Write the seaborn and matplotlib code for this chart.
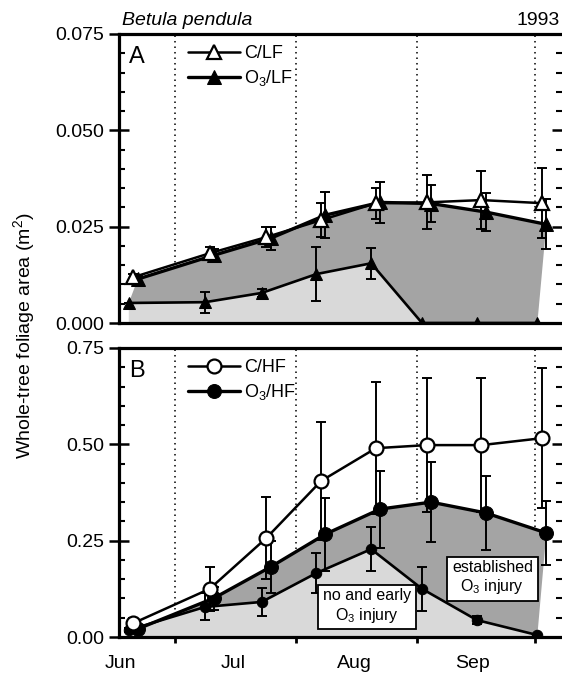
import numpy as np
import pandas as pd
import matplotlib
matplotlib.use('Agg')
import matplotlib.pyplot as plt
from matplotlib.ticker import MultipleLocator, FormatStrFormatter
import seaborn as sns

# ---------------- data ----------------
months = ['Jun', 'Jul', 'Aug', 'Sep']
month_mid_doy = [168, 197, 228, 258]
month_start_doy = [182, 213, 244, 274]
sample_doy = [172, 191.5, 206, 220, 234, 247, 261, 276.5]

# Panel A (low fertilisation)
c_lf = [0.0119, 0.0181, 0.0223, 0.0267, 0.0311, 0.0313, 0.0319, 0.0311]
c_lf_err = [0.0008, 0.0015, 0.0025, 0.0045, 0.0040, 0.0070, 0.0075, 0.0090]
o3_lf = [0.0114, 0.0176, 0.0220, 0.0280, 0.0313, 0.0310, 0.0288, 0.0256]
o3_lf_err = [0.0008, 0.0015, 0.0030, 0.0060, 0.0053, 0.0047, 0.0050, 0.0065]
o3_lf_early = [0.0052, 0.0054, 0.0078, 0.0127, 0.0155, 0.0, 0.0, 0.0]
o3_lf_early_err = [0.0, 0.0027, 0.0010, 0.0070, 0.0040, 0.0, 0.0, 0.0]

# Panel B (high fertilisation)
c_hf = [0.036, 0.125, 0.257, 0.405, 0.490, 0.498, 0.498, 0.516]
c_hf_err = [0.014, 0.057, 0.106, 0.153, 0.172, 0.174, 0.174, 0.182]
o3_hf = [0.021, 0.101, 0.182, 0.267, 0.332, 0.350, 0.322, 0.270]
o3_hf_err = [0.005, 0.030, 0.068, 0.095, 0.100, 0.104, 0.096, 0.083]
o3_hf_early = [0.018, 0.078, 0.091, 0.166, 0.228, 0.125, 0.044, 0.005]
o3_hf_early_err = [0.005, 0.035, 0.036, 0.052, 0.057, 0.057, 0.010, 0.0]

# ---------------- style ----------------
sns.set_theme(style='ticks', rc={
    'text.color': 'black', 'axes.labelcolor': 'black',
    'xtick.color': 'black', 'ytick.color': 'black',
    'axes.edgecolor': 'black'})
plt.rcParams['font.family'] = ['Liberation Sans', 'DejaVu Sans']
plt.rcParams['mathtext.default'] = 'regular'

DARK = '#a4a4a4'
LIGHT = '#d9d9d9'

fig = plt.figure(figsize=(5.62, 6.78), dpi=100)
axA = fig.add_axes([119 / 562, 1 - 323 / 678, 443 / 562, 289 / 678])
axB = fig.add_axes([119 / 562, 1 - 637 / 678, 443 / 562, 289 / 678])

OFF_C, OFF_O3, OFF_E = -0.6, 0.5, -1.8


def draw_panel(ax, c, c_err, o3, o3_err, early, early_err, marker, labels,
               ms_main, ms_early, ymax, major, minor, fmt, letter, bottom):
    d = np.asarray(sample_doy, dtype=float)
    xc, xo, xe = d + OFF_C, d + OFF_O3, d + OFF_E
    o3 = np.asarray(o3); early = np.asarray(early)

    # shaded regions
    ax.fill(np.r_[xe, xe[::-1]], np.r_[early, np.zeros_like(early)],
            color=LIGHT, lw=0, zorder=1)
    ax.fill(np.r_[xo, xe[::-1]], np.r_[o3, early[::-1]],
            color=DARK, lw=0, zorder=1)

    for m in month_start_doy:
        ax.axvline(m, color='black', lw=1.1, ls=(0, (1, 2.6)), zorder=0.5)

    # error bars
    ekw = dict(fmt='none', ecolor='black', elinewidth=1.4, capsize=3.8,
               capthick=1.4)
    ax.errorbar(xe, early, yerr=early_err, zorder=3, **ekw)
    ax.errorbar(xo, o3, yerr=o3_err, zorder=3, **ekw)
    ax.errorbar(xc, c, yerr=c_err, zorder=3, **ekw)

    df_e = pd.DataFrame({'doy': xe, 'area': early})
    df_o = pd.DataFrame({'doy': xo, 'area': o3})
    df_c = pd.DataFrame({'doy': xc, 'area': c})
    sns.lineplot(data=df_e, x='doy', y='area', ax=ax, color='black', lw=1.9,
                 marker=marker, markersize=ms_early, markerfacecolor='black',
                 markeredgecolor='black', errorbar=None, sort=False,
                 zorder=4)
    sns.lineplot(data=df_o, x='doy', y='area', ax=ax, color='black', lw=2.4,
                 marker=marker, markersize=ms_main, markerfacecolor='black',
                 markeredgecolor='black', errorbar=None, sort=False,
                 zorder=5)
    sns.lineplot(data=df_c, x='doy', y='area', ax=ax, color='black', lw=1.8,
                 marker=marker, markersize=ms_main, markerfacecolor='white',
                 markeredgecolor='black', markeredgewidth=1.6,
                 errorbar=None, sort=False, zorder=6)
    lines = ax.get_lines()
    h_c = lines[-1]
    h_o = lines[-2]
    ax.legend(handles=[h_c, h_o], labels=labels, loc='upper left',
              bbox_to_anchor=(0.156, 0.962), frameon=False, fontsize=13,
              handlelength=2.9, handletextpad=0.2, labelspacing=0.35,
              borderpad=0, borderaxespad=0)

    ax.set_xlim(167.7, 281)
    ax.set_ylim(0, ymax)
    ax.set_xlabel('')
    ax.set_ylabel('')
    ax.yaxis.set_major_locator(MultipleLocator(major))
    ax.yaxis.set_minor_locator(MultipleLocator(minor))
    ax.yaxis.set_major_formatter(FormatStrFormatter(fmt))
    ax.tick_params(axis='y', which='major', direction='inout', length=15,
                   width=1.8, left=True, right=True, labelsize=14, pad=3)
    ax.tick_params(axis='y', which='minor', direction='in', length=4,
                   width=1.5, left=True, right=True)

    ax.set_xticks(month_start_doy)
    ax.set_xticklabels([])
    if bottom:
        ax.set_xticks(month_mid_doy, minor=True)
        ax.set_xticklabels(months, minor=True)
        ax.tick_params(axis='x', which='major', direction='out', length=4,
                       width=2)
        ax.tick_params(axis='x', which='minor', length=0, pad=13,
                       labelsize=14)
    else:
        ax.tick_params(axis='x', which='both', length=0)

    for s in ('left', 'top', 'bottom'):
        ax.spines[s].set_linewidth(2.3)
        ax.spines[s].set_visible(True)
    ax.spines['right'].set_visible(False)

    ax.text(0.022, 0.958, letter, transform=ax.transAxes, ha='left',
            va='top', fontsize=17, zorder=7)


draw_panel(axA, c_lf, c_lf_err, o3_lf, o3_lf_err, o3_lf_early,
           o3_lf_early_err, '^', ['C/LF', 'O$_3$/LF'], 9.5, 9,
           0.075, 0.025, 0.005, '%.3f', 'A', False)
draw_panel(axB, c_hf, c_hf_err, o3_hf, o3_hf_err, o3_hf_early,
           o3_hf_early_err, 'o', ['C/HF', 'O$_3$/HF'], 10, 7.5,
           0.75, 0.25, 0.05, '%.2f', 'B', True)

box = dict(boxstyle='square,pad=0.3', fc='white', ec='black', lw=1.3)
axB.text(231.1, 0.080, 'no and early\nO$_3$ injury', ha='center',
         va='center', fontsize=11.5, bbox=box, zorder=8, linespacing=1.2)
axB.text(263.2, 0.153, 'established\nO$_3$ injury', ha='center',
         va='center', fontsize=11.5, bbox=box, zorder=8, linespacing=1.2)

fig.text(122 / 562, 1 - 25 / 678, 'Betula pendula', ha='left',
         va='baseline', fontsize=14, style='italic')
fig.text(560 / 562, 1 - 25 / 678, '1993', ha='right', va='baseline',
         fontsize=14)
fig.text(24 / 562, 1 - 336 / 678, 'Whole-tree foliage area (m$^2$)',
         rotation=90, ha='center', va='center', fontsize=14)

fig.savefig('out.png', dpi=100)
